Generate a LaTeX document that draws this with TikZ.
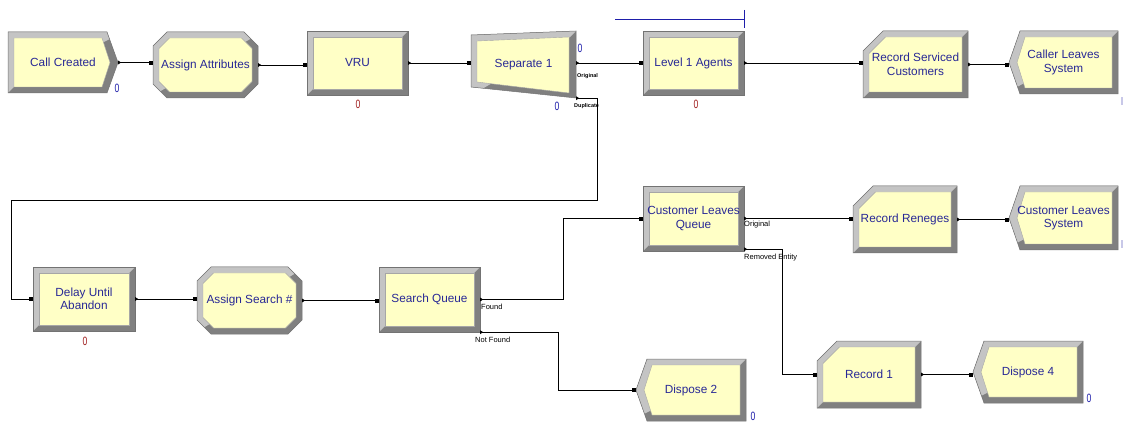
\documentclass[tikz,border=0pt]{standalone}
\usepackage{fontspec}
\setmainfont{Liberation Sans}
\newfontfamily\cntfont{Liberation Sans}[FakeStretch=0.72]
\usetikzlibrary{arrows.meta}

\definecolor{blockyellow}{RGB}{255,255,198}
\definecolor{bevgraylight}{RGB}{196,196,196}
\definecolor{bevgraydark}{RGB}{128,128,128}
\definecolor{textblue}{RGB}{40,40,150}
\definecolor{cntblue}{RGB}{30,30,170}
\definecolor{cntred}{RGB}{160,30,30}
\definecolor{edgemark}{RGB}{200,200,232}

\tikzset{
  bevdark/.style={fill=bevgraydark},
  bevlight/.style={fill=bevgraylight},
  blockface/.style={fill=blockyellow, draw=bevgraydark!70, line width=0.4pt},
  bevedge/.style={draw=black!55, line width=0.5pt},
  blocktext/.style={shape=rectangle, inner sep=0pt, align=center, text=textblue,
    font=\fontsize{11.8}{13.5}\selectfont},
  conn/.style={draw=black, line width=0.7pt,
    {Triangle[reversed,length=3pt,width=3.5pt]}-{Square[length=3.5pt,width=3.5pt]}},
  portlabel/.style={anchor=west, inner sep=0pt, font=\fontsize{7.5}{8}\selectfont},
  tinylabel/.style={anchor=west, inner sep=0pt, font=\bfseries\fontsize{5.5}{6}\selectfont},
  counter/.style={inner sep=0pt, font=\cntfont\fontsize{12}{12}\selectfont},
}

% outer and inner outline of each kind of module
\newcommand{\shapeproc}{%
  \def\outerpath{(\bxa,\bya) rectangle (\bxb,\byb)}%
  \def\innerpath{(\bxa+6,\bya+6) rectangle (\bxb-6,\byb-6)}}
\newcommand{\shapecreate}{%
  \def\outerpath{(\bxa,\bya) -- (\bxb-11,\bya) -- (\bxb,\bym) -- (\bxb-11,\byb) -- (\bxa,\byb) -- cycle}%
  \def\innerpath{(\bxa+6,\bya+6) -- (\bxb-16,\bya+6) -- (\bxb-8,\bym) -- (\bxb-16,\byb-6) -- (\bxa+6,\byb-6) -- cycle}}
\newcommand{\shapedispose}{%
  \def\outerpath{(\bxa+11,\bya) -- (\bxb,\bya) -- (\bxb,\byb) -- (\bxa+11,\byb) -- (\bxa,\bym) -- cycle}%
  \def\innerpath{(\bxa+16,\bya+6) -- (\bxb-6,\bya+6) -- (\bxb-6,\byb-6) -- (\bxa+16,\byb-6) -- (\bxa+8,\bym) -- cycle}}
\newcommand{\shapeassign}{%
  \def\outerpath{(\bxa+14,\bya) -- (\bxb-14,\bya) -- (\bxb,\bya+14) -- (\bxb,\byb-14) -- (\bxb-14,\byb) -- (\bxa+14,\byb) -- (\bxa,\byb-14) -- (\bxa,\bya+14) -- cycle}%
  \def\innerpath{(\bxa+16.5,\bya+6) -- (\bxb-16.5,\bya+6) -- (\bxb-6,\bya+16.5) -- (\bxb-6,\byb-16.5) -- (\bxb-16.5,\byb-6) -- (\bxa+16.5,\byb-6) -- (\bxa+6,\byb-16.5) -- (\bxa+6,\bya+16.5) -- cycle}}
\newcommand{\shaperecord}{%
  \def\outerpath{(\bxa+20,\bya) -- (\bxb,\bya) -- (\bxb,\byb) -- (\bxa,\byb) -- (\bxa,\bya+20) -- cycle}%
  \def\innerpath{(\bxa+22.5,\bya+6) -- (\bxb-6,\bya+6) -- (\bxb-6,\byb-6) -- (\bxa+6,\byb-6) -- (\bxa+6,\bya+22.5) -- cycle}}
\newcommand{\shapeseparate}{%
  \def\outerpath{(\bxa,\bya+4) -- (\bxb,\bya) -- (\bxb,\byb) -- (\bxa,\byb-11) -- cycle}%
  \def\innerpath{(\bxa+6,\bya+10) -- (\bxb-7,\bya+6) -- (\bxb-7,\byb-5) -- (\bxa+6,\byb-16) -- cycle}}

% #1 name, #2 x1, #3 y1, #4 x2, #5 y2, #6 kind, #7 text
\newcommand{\arenablock}[7]{%
  \pgfmathsetmacro\bxa{#2}\pgfmathsetmacro\bya{#3}%
  \pgfmathsetmacro\bxb{#4}\pgfmathsetmacro\byb{#5}%
  \pgfmathsetmacro\bym{(#3+#5)/2}%
  \csname shape#6\endcsname
  \fill[bevdark] \outerpath;
  \begin{scope}
    \clip (\bxa-2,\byb+2) -- (\bxa+6,\byb-6) -- (\bxb-6,\bya+6) -- (\bxb+2,\bya-2) -- (\bxa-2,\bya-2) -- cycle;
    \fill[bevlight] \outerpath;
  \end{scope}
  \filldraw[blockface] \innerpath;
  \draw[bevedge] \outerpath;
  \node[blocktext, minimum width={(#4-#2)*1pt}, minimum height={(#5-#3)*1pt}]
    (#1) at ({(#2+#4)/2},\bym) {#7};
}

\begin{document}
\begin{tikzpicture}[x=1pt,y=-1pt]
  \fill[white] (0,0) rectangle (1125,422);
  \useasboundingbox (0,0) rectangle (1125,422);

  % top row
  \arenablock{callcreated}{8}{32}{118}{93}{create}{Call Created}
  \arenablock{assignattr}{153}{32}{258}{98}{assign}{Assign Attributes}
  \arenablock{vru}{307}{31}{408}{95}{proc}{VRU}
  \arenablock{sep}{471}{31}{576}{98}{separate}{Separate 1}
  \arenablock{agents}{643}{31}{744}{95}{proc}{Level 1 Agents}
  \arenablock{recserv}{863}{31}{968}{98}{record}{Record Serviced\\Customers}
  \arenablock{callerleaves}{1009}{31}{1118}{94}{dispose}{Caller Leaves\\System}

  % bottom rows
  \arenablock{delay}{33}{267}{135}{331}{proc}{Delay Until\\Abandon}
  \arenablock{assignsearch}{197}{267}{302}{334}{assign}{Assign Search \#}
  \arenablock{searchq}{379}{267}{480}{332}{proc}{Search Queue}
  \arenablock{clq}{643}{186}{744}{251}{proc}{Customer Leaves\\Queue}
  \arenablock{recreneges}{853}{186}{957}{253}{record}{Record Reneges}
  \arenablock{custleaves}{1009}{186}{1118}{250}{dispose}{Customer Leaves\\System}
  \arenablock{disp2}{636}{359}{746}{421}{dispose}{Dispose 2}
  \arenablock{rec1}{817}{341}{921}{408}{record}{Record 1}
  \arenablock{disp4}{973}{341}{1083}{403}{dispose}{Dispose 4}

  % queue line of the agents
  \draw[cntblue, line width=0.8pt] (615,19) -- (744,19);
  \draw[cntblue, line width=0.8pt] (744,10) -- (744,28);

  % connectors
  \draw[conn] (callcreated.east) -- (callcreated.east -| assignattr.west);
  \draw[conn] (assignattr.east) -- (assignattr.east -| vru.west);
  \draw[conn] (vru.east) -- (vru.east -| sep.west);
  \draw[conn] ([yshift=1.5pt]sep.east) -- ([yshift=1.5pt]sep.east -| agents.west);
  \draw[conn] (agents.east) -- (agents.east -| recserv.west);
  \draw[conn] (recserv.east) -- (recserv.east -| callerleaves.west);
  \draw[conn] (sep.south east) -| (597,200) -| ([xshift=-21pt]delay.west) -- (delay.west);
  \draw[conn] (delay.east) -- (delay.east -| assignsearch.west);
  \draw[conn] (assignsearch.east) -- (assignsearch.east -| searchq.west);
  \draw[conn] (searchq.east) -- ++(83,0) |- (clq.west);
  \draw[conn] (searchq.south east) -- ++(78,0) |- (disp2.west);
  \draw[conn] (clq.east) -- (clq.east -| recreneges.west);
  \draw[conn] (recreneges.east) -- (recreneges.east -| custleaves.west);
  \draw[conn] ([yshift=2pt]clq.south east) -- ++(38,0) |- (rec1.west);
  \draw[conn] (rec1.east) -- (rec1.east -| disp4.west);

  % exit point labels
  \node[tinylabel] (sep-orig) at (577,76) {Original};
  \node[tinylabel] (sep-dup) at (574,106) {Duplicate};
  \node[portlabel] (sq-found) at (481,307) {Found};
  \node[portlabel] (sq-notfound) at (475,340) {Not Found};
  \node[portlabel] (clq-orig) at (744,225) {Original};
  \node[portlabel] (clq-removed) at (744,258) {Removed Entity};

  % counters
  \node[counter, text=cntblue] (cnt-create) at (117,88) {0};
  \node[counter, text=cntred] (cnt-vru) at (358,104) {0};
  \node[counter, text=cntblue] (cnt-sep-a) at (580,48) {0};
  \node[counter, text=cntblue] (cnt-sep-b) at (557,106) {0};
  \node[counter, text=cntred] (cnt-agents) at (696,104) {0};
  \node[counter, text=cntred] (cnt-delay) at (85,341) {0};
  \node[counter, text=cntblue] (cnt-disp2) at (753,416) {0};
  \node[counter, text=cntblue] (cnt-disp4) at (1089,398) {0};
  \fill[edgemark] (1121,97) rectangle (1123,105);
  \fill[edgemark] (1121,240) rectangle (1123,248);
\end{tikzpicture}
\end{document}
